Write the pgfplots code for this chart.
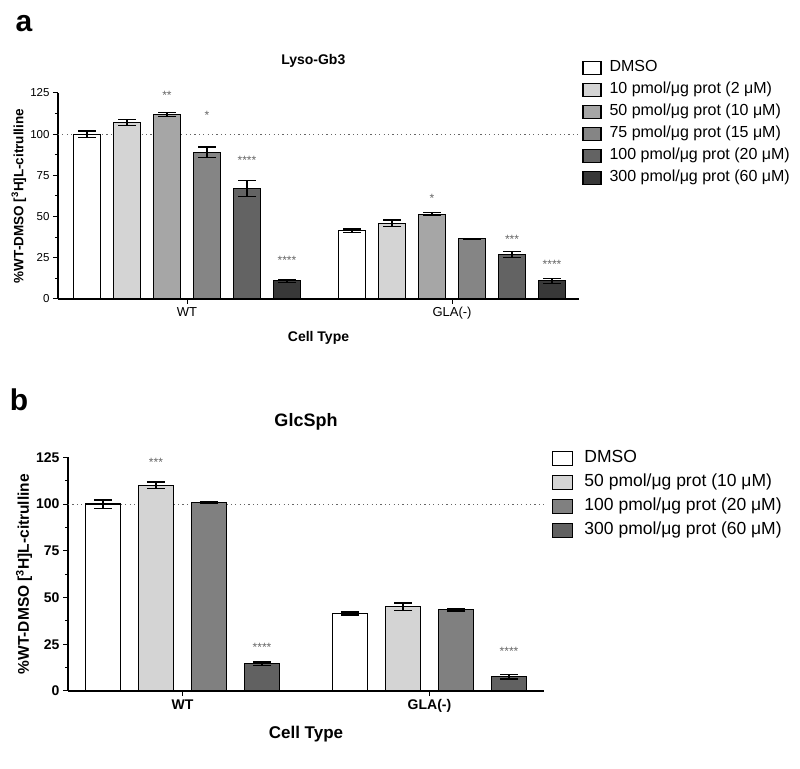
\documentclass[border=0pt]{standalone}
\usepackage{fontspec}
\setmainfont{Liberation Sans}
\usepackage{pgfplots}
\pgfplotsset{compat=1.18}
\definecolor{ca1}{gray}{1}
\definecolor{ca2}{gray}{0.83}
\definecolor{ca3}{gray}{0.65}
\definecolor{ca4}{gray}{0.52}
\definecolor{ca5}{gray}{0.39}
\definecolor{ca6}{gray}{0.22}
\definecolor{cb1}{gray}{1}
\definecolor{cb2}{gray}{0.83}
\definecolor{cb3}{gray}{0.50}
\definecolor{cb4}{gray}{0.38}
\definecolor{stargray}{gray}{0.4}
\pgfplotsset{
  boxlegendA/.style={legend image code/.code={\draw[##1,line width=1.2pt] (0pt,-6.3pt) rectangle (18pt,6.3pt);}},
  boxlegendB/.style={legend image code/.code={\draw[##1,line width=1.2pt] (0pt,-7pt) rectangle (20pt,7pt);}},
  barA/.style={fill=#1, draw=black, line width=1.2pt,
    error bars/.cd, y dir=both, y explicit,
    error bar style={line width=1.3pt, black},
    error mark=|,
    error mark options={black, mark size=9pt, line width=1.3pt}},
}
\begin{document}
\begin{tikzpicture}
\useasboundingbox (0pt,0pt) rectangle (800pt,768pt);
\node[font=\bfseries\fontsize{30}{30}\selectfont] at (24pt,744pt) {a};
\node[font=\bfseries\fontsize{30}{30}\selectfont] at (19pt,368pt) {b};

% ---------------- panel a ----------------
\begin{axis}[
  at={(58pt,469pt)}, anchor=south west, scale only axis,
  width=521pt, height=206pt,
  xmin=0.275, xmax=13.3, ymin=0, ymax=125,
  axis lines=left, axis line style={-, line width=1.3pt},
  ytick={0,25,50,75,100,125}, minor y tick num=1,
  xtick={3.5,10.125}, xticklabels={WT,GLA(-)},
  tick align=outside, major tick length=5pt, minor tick length=3pt,
  tick style={line width=1pt, black},
  ybar, bar width=27pt,
  every axis plot post/.append style={/pgf/bar shift=0pt, boxlegendA},
  clip=false,
  /pgf/number format/assume math mode=true,
  yticklabel style={font=\fontsize{11.5}{13}\selectfont},
  xticklabel style={font=\fontsize{13}{15}\selectfont},
  ylabel={\%WT-DMSO [\textsuperscript{3}H]L-citrulline},
  ylabel style={font=\bfseries\fontsize{13.5}{15}\selectfont, at={(axis description cs:-0.075,0.5)}, anchor=center},
  xlabel={Cell Type},
  xlabel style={font=\bfseries\fontsize{14}{16}\selectfont, at={(axis description cs:0.5,0)}, yshift=-39pt, anchor=center},
  title={Lyso-Gb3},
  title style={font=\bfseries\fontsize{14}{16}\selectfont, at={(axis description cs:0.49,1)}, yshift=26pt, anchor=center},
  legend cell align=left,
  legend style={at={(1.006,1.162)}, anchor=north west, draw=none, fill=none, inner sep=0pt,
    font=\fontsize{16}{18}\selectfont, row sep=6pt,
    nodes={inner sep=0pt, text height=12pt, text depth=4pt},
    /tikz/every odd column/.append style={column sep=8pt}},
]
\draw[gray!80!black, line width=1pt, dash pattern=on 1.1pt off 3.3pt] (axis cs:0.275,100) -- (axis cs:13.3,100);
\addplot[barA=ca1] coordinates {(1,100) +- (0,2) (7.625,41.5) +- (0,1)};
\addplot[barA=ca2] coordinates {(2,107) +- (0,1.8) (8.625,46) +- (0,2)};
\addplot[barA=ca3] coordinates {(3,112) +- (0,1.2) (9.625,51.5) +- (0,0.8)};
\addplot[barA=ca4] coordinates {(4,89) +- (0,3.2) (10.625,36.5) +- (0,0.4)};
\addplot[barA=ca5] coordinates {(5,67) +- (0,5) (11.625,27) +- (0,2)};
\addplot[barA=ca6] coordinates {(6,11) +- (0,1) (12.625,11) +- (0,1.5)};
\legend{DMSO, 10 pmol/μg prot (2 μM), 50 pmol/μg prot (10 μM), 75 pmol/μg prot (15 μM), 100 pmol/μg prot (20 μM), 300 pmol/μg prot (60 μM)}
\begin{scope}[every node/.style={font=\fontsize{12}{12}\selectfont, text=stargray, anchor=base}]
\node at (axis cs:3,120.8) {**};
\node at (axis cs:4,108.8) {*};
\node at (axis cs:5,81.8) {****};
\node at (axis cs:6,20.8) {****};
\node at (axis cs:9.625,58.8) {*};
\node at (axis cs:11.625,33.4) {***};
\node at (axis cs:12.625,18.8) {****};
\end{scope}
\end{axis}

% ---------------- panel b ----------------
\begin{axis}[
  at={(68pt,77pt)}, anchor=south west, scale only axis,
  width=476pt, height=233.7pt,
  xmin=0.34, xmax=9.32, ymin=0, ymax=125,
  axis lines=left, axis line style={-, line width=1.3pt},
  ytick={0,25,50,75,100,125}, minor y tick num=1,
  xtick={2.5,7.16}, xticklabels={WT,GLA(-)},
  tick align=outside, major tick length=5pt, minor tick length=3pt,
  tick style={line width=1pt, black},
  ybar, bar width=35pt,
  every axis plot post/.append style={/pgf/bar shift=0pt, boxlegendB},
  clip=false,
  /pgf/number format/assume math mode=true,
  yticklabel style={font=\bfseries\fontsize{14}{16}\selectfont},
  xticklabel style={font=\bfseries\fontsize{14}{16}\selectfont},
  ylabel={\%WT-DMSO [\textsuperscript{3}H]L-citrulline},
  ylabel style={font=\bfseries\fontsize{15.5}{17}\selectfont, at={(axis description cs:-0.0924,0.5)}, anchor=center},
  xlabel={Cell Type},
  xlabel style={font=\bfseries\fontsize{17}{19}\selectfont, at={(axis description cs:0.5,0)}, yshift=-43pt, anchor=center},
  title={GlcSph},
  title style={font=\bfseries\fontsize{18}{20}\selectfont, at={(axis description cs:0.5,1)}, yshift=29pt, anchor=center},
  legend cell align=left,
  legend style={at={(1.017,1.034)}, anchor=north west, draw=none, fill=none, inner sep=0pt,
    font=\fontsize{17.5}{20}\selectfont, row sep=6.5pt,
    nodes={inner sep=0pt, text height=13pt, text depth=4.5pt},
    /tikz/every odd column/.append style={column sep=11pt}},
]
\draw[gray!80!black, line width=1pt, dash pattern=on 1.1pt off 3.3pt] (axis cs:0.34,100) -- (axis cs:9.32,100);
\addplot[barA=cb1] coordinates {(1,100) +- (0,2.2) (5.66,41.5) +- (0,0.8)};
\addplot[barA=cb2] coordinates {(2,110) +- (0,1.8) (6.66,45) +- (0,2)};
\addplot[barA=cb3] coordinates {(3,101) +- (0,0.5) (7.66,43.5) +- (0,0.7)};
\addplot[barA=cb4] coordinates {(4,14.5) +- (0,1) (8.66,7.7) +- (0,1.3)};
\legend{DMSO, 50 pmol/μg prot (10 μM), 100 pmol/μg prot (20 μM), 300 pmol/μg prot (60 μM)}
\begin{scope}[every node/.style={font=\fontsize{12}{12}\selectfont, text=stargray, anchor=base}]
\node at (axis cs:2,120.3) {***};
\node at (axis cs:4,21.3) {****};
\node at (axis cs:8.66,18.8) {****};
\end{scope}
\end{axis}
\end{tikzpicture}
\end{document}
